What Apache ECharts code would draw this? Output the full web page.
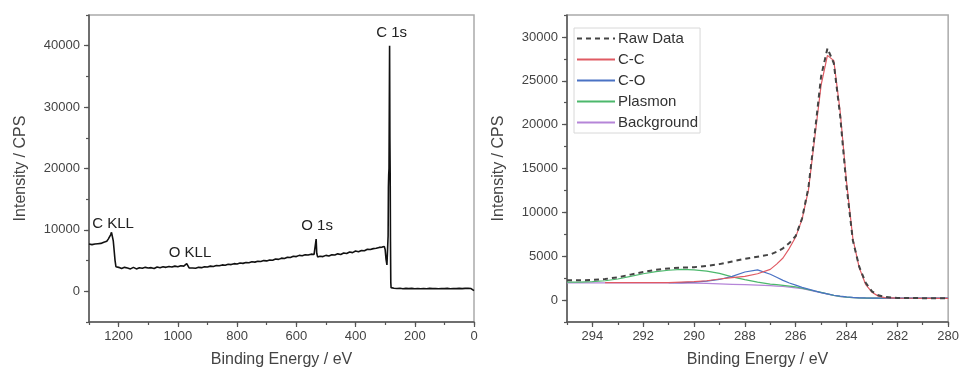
<!DOCTYPE html>
<html>
<head>
<meta charset="utf-8">
<script src="https://cdn.jsdelivr.net/npm/echarts@6/dist/echarts.min.js"></script>
<style>html,body{margin:0;padding:0;background:#fff}#c{width:962px;height:373px}</style>
</head>
<body>
<div id="c"></div>
<script>
// ---------- Survey spectrum (left) ----------
var surveyEnergy = [1300,1295,1290,1285,1280,1275,1270,1265,1260,1255,1250,1245,1240,1235,1230,1227,1224,1221,1218,1215,1212,1209,1205,1200,1190,1180,1170,1160,1150,1140,1130,1120,1110,1100,1090,1080,1070,1060,1050,1040,1030,1020,1010,1000,990,980,975,970,965,962,958,950,940,930,920,910,900,890,880,870,860,850,840,830,820,810,800,790,780,770,760,750,740,730,720,710,700,690,680,670,660,650,640,630,620,610,600,590,580,570,560,550,540,535,533,531,528,520,510,500,490,480,470,460,450,440,430,420,410,400,390,380,370,360,350,340,330,320,310,303,300,297,294,292,290,289,288,287,286,285,284,283,282,281,280,270,260,250,240,230,220,210,200,190,180,170,160,150,140,130,120,110,100,90,80,70,60,50,40,30,20,15,10,5,0];
var surveyCounts = [7700,7900,7600,7800,7700,7950,7750,7950,7800,8100,8000,8300,8150,8500,8800,9200,9600,9300,8200,6600,5000,4000,3800,3900,3700,3900,3800,3650,3900,3650,3850,3750,3900,3800,3850,3700,3950,3850,4000,3900,4050,3950,4100,4000,4150,4100,4300,4500,4400,3800,3650,3800,3750,3900,3850,4000,3950,4100,4050,4200,4150,4300,4250,4400,4350,4500,4450,4600,4550,4700,4650,4800,4750,4900,4850,5000,4950,5100,5050,5250,5200,5400,5350,5550,5500,5700,5650,5850,5800,5950,5900,6050,6000,6100,8500,6200,5600,5700,5650,5850,5750,5950,5900,6100,6000,6250,6150,6400,6300,6550,6450,6650,6600,6850,6800,6950,7000,7150,7200,7300,6800,5200,4300,4600,9000,17000,19000,20000,30000,40000,25000,19000,8000,1500,600,500,450,500,420,480,430,470,420,460,410,450,420,470,430,450,410,460,430,470,420,450,430,470,440,480,500,550,450,250,100];
var surveyPeakNames = ['C 1s', 'C KLL', 'O KLL', 'O 1s'];

// ---------- High-resolution C 1s (right) ----------
var hrEnergy = [295,294.5,294,293.5,293,292.5,292,291.5,291,290.5,290,289.5,289,288.5,288,287.5,287,286.75,286.5,286.25,286,285.75,285.5,285.25,285,284.75,284.5,284.25,284,283.75,283.5,283.25,283,282.75,282.5,282,281.5,281,280.5,280];
var rawData = [2250,2250,2300,2400,2600,2900,3200,3450,3600,3700,3750,3900,4100,4400,4700,4950,5200,5500,5900,6500,7300,9300,12800,19000,25500,28700,27000,21000,13000,6800,3800,2000,1000,550,350,250,230,220,220,220];
var ccData = [null,null,null,2000,2000,2000,2000,2000,2000,2050,2100,2200,2400,2550,2700,3000,3500,4100,4800,5900,7200,9200,12500,18500,24500,27900,27300,21500,13500,7000,3700,1800,900,450,280,220,210,200,200,200];
var coData = [null,null,null,null,null,null,null,null,2000,2000,2050,2150,2350,2700,3200,3450,2950,2600,2250,1950,1700,1450,1250,1050,850,700,550,450,370,300,260,240,230,225,220,220,220,220,220,220];
var plasmonData = [2050,2050,2100,2200,2400,2700,3000,3250,3400,3500,3450,3300,3050,2650,2330,2050,1820,1750,1680,1600,1500,1350,1200,1030,870,700,540,420,330,280,250,230,220,215,210,205,200,200,200,200];
var backgroundData = [1950,1950,1950,1950,1950,1950,1950,1950,1950,1940,1930,1900,1850,1800,1750,1700,1650,1600,1550,1480,1400,1300,1150,1000,850,680,520,400,320,270,240,230,220,215,210,205,200,200,200,200];
var seriesNames = ['Raw Data', 'C-C', 'C-O', 'Plasmon', 'Background'];

function zip(xs, ys) { return xs.map(function (x, i) { return [x, ys[i]]; }); }

var FONT = 'Liberation Sans, Arial, sans-serif';
var AX = '#555';
var plain = function (v) { return String(v); };
var tickLabel = { color: '#444', fontSize: 13, fontFamily: FONT, margin: 8, formatter: plain };
var axName = { color: '#444', fontSize: 16, fontFamily: FONT };

function majorX(grid, min, max, interval, name) {
  return {
    type: 'value', gridIndex: grid, min: min, max: max, interval: interval, inverse: true, position: 'bottom',
    name: name, nameLocation: 'middle', nameGap: 30, nameTextStyle: axName,
    axisLine: { show: true, onZero: false, lineStyle: { color: AX, width: 1.5 } },
    axisTick: { show: true, inside: false, length: 5, lineStyle: { color: AX, width: 1.2 } },
    axisLabel: Object.assign({ showMaxLabel: false }, tickLabel),
    splitLine: { show: false }
  };
}
function minorX(grid, min, max, interval) {
  return {
    type: 'value', gridIndex: grid, min: min, max: max, interval: interval, inverse: true, position: 'bottom',
    axisLine: { show: false, onZero: false }, axisTick: { show: true, length: 3, lineStyle: { color: AX, width: 1.2 } },
    axisLabel: { show: false }, splitLine: { show: false }
  };
}
function majorY(grid, min, max, splitNumber) {
  return {
    type: 'value', gridIndex: grid, min: min, max: max, splitNumber: splitNumber, position: 'left',
    name: 'Intensity / CPS', nameLocation: 'middle', nameGap: 60, nameTextStyle: axName,
    axisLine: { show: true, onZero: false, lineStyle: { color: AX, width: 1.5 } },
    axisTick: { show: true, length: 5, lineStyle: { color: AX, width: 1.2 } },
    axisLabel: Object.assign({ showMinLabel: false, showMaxLabel: false }, tickLabel, { margin: 9 }),
    splitLine: { show: false }
  };
}
function minorY(grid, min, max, interval) {
  return {
    type: 'value', gridIndex: grid, min: min, max: max, interval: interval, position: 'left',
    axisLine: { show: false, onZero: false }, axisTick: { show: true, length: 3, lineStyle: { color: AX, width: 1.2 } },
    axisLabel: { show: false }, splitLine: { show: false }
  };
}

var thin = function (c) { return { color: c, width: 1.2 }; };

var option = {
  animation: false,
  backgroundColor: '#fff',
  textStyle: { fontFamily: FONT },
  grid: [
    { left: 89, right: 488, top: 15, bottom: 47, show: true, borderColor: '#aaa', borderWidth: 1.5 },
    { left: 567, right: 11, top: 15, bottom: 47, show: true, borderColor: '#aaa', borderWidth: 1.5 }
  ],
  xAxis: [
    majorX(0, 0, 1300, 200, 'Binding Energy / eV'),
    minorX(0, 0, 1300, 100),
    majorX(1, 280, 295, 2, 'Binding Energy / eV'),
    minorX(1, 280, 295, 1)
  ],
  yAxis: [
    majorY(0, -5000, 45000, 5),
    minorY(0, -5000, 45000, 5000),
    majorY(1, -2500, 32500, 7),
    minorY(1, -2500, 32500, 2500)
  ],
  legend: {
    data: seriesNames,
    orient: 'vertical', left: 574, top: 28,
    itemWidth: 38, itemHeight: 10, itemGap: 6,
    padding: [3, 2, 3, 2],
    borderColor: '#d8d8d8', borderWidth: 1,
    itemStyle: { opacity: 0, borderWidth: 0 },
    textStyle: { color: '#333', fontSize: 15, fontFamily: FONT, padding: [0, 0, 0, -2] }
  },
  series: [
    {
      type: 'line', name: 'survey', xAxisIndex: 0, yAxisIndex: 0,
      data: zip(surveyEnergy, surveyCounts), showSymbol: false, symbol: 'none',
      lineStyle: { color: '#111', width: 1.6 },
      markPoint: {
        symbol: 'circle', symbolSize: 0, silent: true,
        label: { show: true, position: 'inside', formatter: '{b}', color: '#222', fontSize: 15, fontFamily: FONT },
        data: [
          { name: surveyPeakNames[0], coord: [278, 42100] },
          { name: surveyPeakNames[1], coord: [1219, 11000] },
          { name: surveyPeakNames[2], coord: [959, 6300] },
          { name: surveyPeakNames[3], coord: [530, 10700] }
        ]
      }
    },
    { type: 'line', name: seriesNames[4], xAxisIndex: 2, yAxisIndex: 2, data: zip(hrEnergy, backgroundData), showSymbol: false, symbol: 'none', lineStyle: thin('#b585d8'), itemStyle: { color: '#b585d8' }, z: 2 },
    { type: 'line', name: seriesNames[3], xAxisIndex: 2, yAxisIndex: 2, data: zip(hrEnergy, plasmonData), showSymbol: false, symbol: 'none', lineStyle: thin('#4cb86c'), itemStyle: { color: '#4cb86c' }, z: 2 },
    { type: 'line', name: seriesNames[2], xAxisIndex: 2, yAxisIndex: 2, data: zip(hrEnergy, coData), showSymbol: false, symbol: 'none', lineStyle: thin('#4a72c4'), itemStyle: { color: '#4a72c4' }, z: 2 },
    { type: 'line', name: seriesNames[1], xAxisIndex: 2, yAxisIndex: 2, data: zip(hrEnergy, ccData), showSymbol: false, symbol: 'none', lineStyle: thin('#e05a63'), itemStyle: { color: '#e05a63' }, z: 2 },
    { type: 'line', name: seriesNames[0], xAxisIndex: 2, yAxisIndex: 2, data: zip(hrEnergy, rawData), showSymbol: false, symbol: 'none', lineStyle: { color: '#444', width: 2, type: [5, 4] }, itemStyle: { color: '#444' }, z: 3 }
  ]
};
var chart = echarts.init(document.getElementById('c'), null, { renderer: 'canvas' });
chart.setOption(option);
</script>
</body>
</html>
